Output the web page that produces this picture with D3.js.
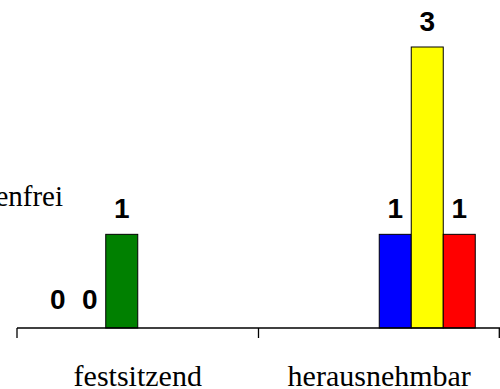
<!DOCTYPE html>
<html><head><meta charset="utf-8">
<script src="https://cdn.jsdelivr.net/npm/d3@7"></script>
<style>body{margin:0;background:#fff}svg{display:block}</style>
</head><body><svg id="c" width="500" height="389"></svg>
<script>
const categories = ["festsitzend", "herausnehmbar"];
const seriesNames = ["S1", "S2", "beschwerdenfrei", "S4", "S5", "S6"];
const seriesColors = ["#9999ff", "#993366", "#008000", "#0000ff", "#ffff00", "#ff0000"];
// values per series, in category order (null = no bar)
const s1 = [0, null];
const s2 = [0, null];
const s3 = [1, null];
const s4 = [null, 1];
const s5 = [null, 3];
const s6 = [null, 1];
const seriesValues = [s1, s2, s3, s4, s5, s6];
const legendLabel = "beschwerdenfrei";

const svg = d3.select("#c");
const left = 17, right = 500, axisY = 328, topY = 47;
const barW = 32;

const x0 = d3.scaleBand().domain(categories).range([left, right]).padding(0);
const bw = x0.bandwidth();
const x1 = d3.scaleBand().domain(seriesNames)
  .range([(bw - barW * seriesNames.length) / 2, (bw + barW * seriesNames.length) / 2]).padding(0);
const y = d3.scaleLinear().domain([0, 3]).range([axisY, topY]);

const data = [];
categories.forEach((c, ci) => seriesNames.forEach((s, si) => {
  const v = seriesValues[si][ci];
  if (v !== null) data.push({c, s, v, color: seriesColors[si]});
}));

svg.selectAll("rect.bar").data(data.filter(d => d.v > 0)).join("rect")
  .attr("class", "bar")
  .attr("x", d => x0(d.c) + x1(d.s))
  .attr("y", d => y(d.v))
  .attr("width", x1.bandwidth())
  .attr("height", d => y(0) - y(d.v))
  .attr("fill", d => d.color)
  .attr("stroke", "#000").attr("stroke-width", 1);

svg.selectAll("text.val").data(data).join("text")
  .attr("class", "val")
  .attr("x", d => x0(d.c) + x1(d.s) + x1.bandwidth() / 2)
  .attr("y", d => y(d.v) - (d.v > 0 ? 16 : 19))
  .attr("text-anchor", "middle")
  .attr("font-family", "Liberation Sans, Arial, sans-serif")
  .attr("font-weight", "bold").attr("font-size", 28)
  .text(d => d.v);

// axis
const ax = svg.append("g").attr("stroke", "#000").attr("stroke-width", 1.3);
ax.append("line").attr("x1", left).attr("x2", right).attr("y1", axisY).attr("y2", axisY);
const bounds = [x0(categories[0])].concat(categories.map(c => x0(c) + bw));
ax.selectAll("line.t").data(bounds).join("line").attr("class", "t")
  .attr("x1", d => Math.min(d, 499.3)).attr("x2", d => Math.min(d, 499.3))
  .attr("y1", axisY).attr("y2", axisY + 10);

svg.selectAll("text.cat").data(categories).join("text")
  .attr("class", "cat")
  .attr("x", d => x0(d) + bw / 2)
  .attr("y", 386)
  .attr("text-anchor", "middle")
  .attr("font-family", "Liberation Serif, Times New Roman, serif")
  .attr("font-size", 30)
  .text(d => d);

// legend (partially outside view)
svg.append("text").attr("x", 63).attr("y", 206).attr("text-anchor", "end")
  .attr("font-family", "Liberation Serif, Times New Roman, serif")
  .attr("font-size", 29).text(legendLabel);
</script></body></html>
